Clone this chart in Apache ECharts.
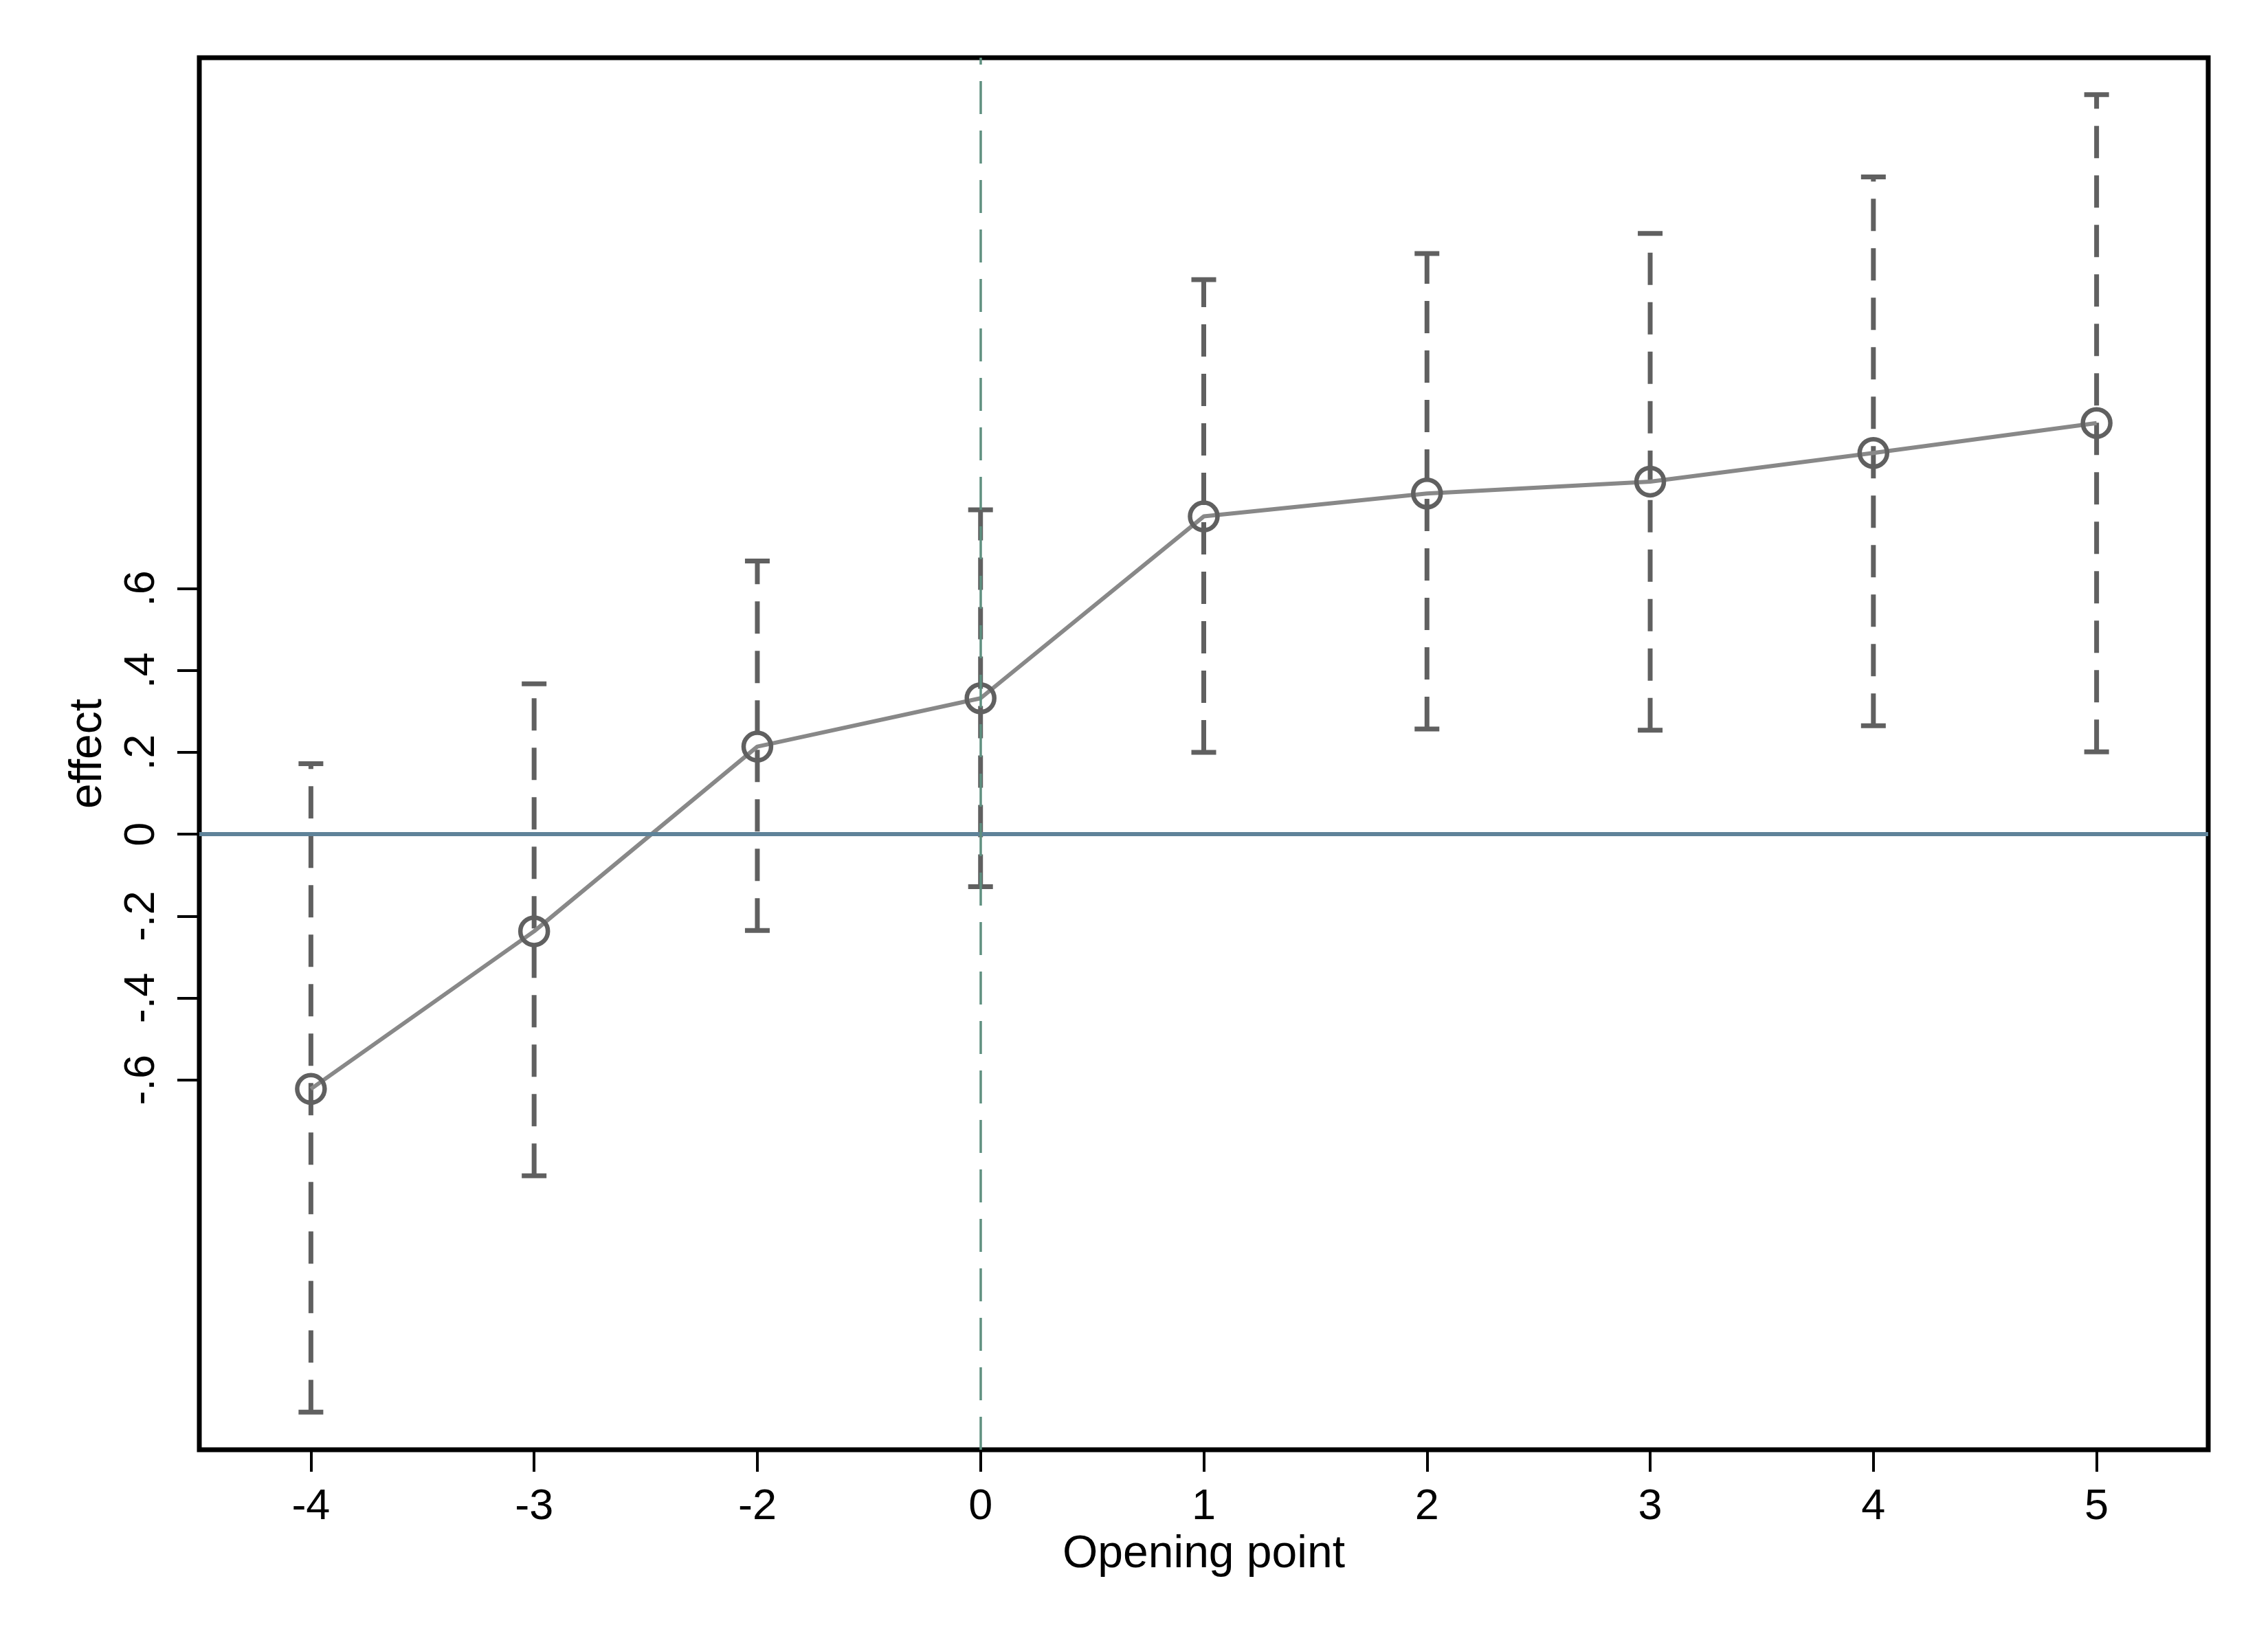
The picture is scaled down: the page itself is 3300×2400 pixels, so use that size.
<!DOCTYPE html>
<html>
<head>
<meta charset="utf-8">
<script src="https://cdn.jsdelivr.net/npm/echarts@6/dist/echarts.min.js"></script>
<style>
html,body{margin:0;padding:0;background:#fff;}
#chart{width:3300px;height:2400px;}
</style>
</head>
<body>
<div id="chart"></div>
<script>
const categories = ['-4', '-3', '-2', '0', '1', '2', '3', '4', '5'];
const effect = [-0.622, -0.237, 0.214, 0.332, 0.776, 0.832, 0.861, 0.931, 1.004];
const upperCI = [0.172, 0.367, 0.667, 0.792, 1.354, 1.418, 1.467, 1.605, 1.806];
const lowerCI = [-1.411, -0.834, -0.235, -0.128, 0.200, 0.257, 0.254, 0.265, 0.201];
const yTicks = [-0.6, -0.4, -0.2, 0, 0.2, 0.4, 0.6];
const yTickLabels = ['-.6', '-.4', '-.2', '0', '.2', '.4', '.6'];
const refX = '0';
const refY = 0;

const FONT = 'Liberation Sans, Arial, Helvetica, sans-serif';
const chart = echarts.init(document.getElementById('chart'), null, {renderer: 'canvas'});

const ciData = categories.map((c, i) => [i, lowerCI[i], upperCI[i]]);

function renderCI(params, api) {
  const x = api.value(0);
  const lo = api.coord([x, api.value(1)]);
  const hi = api.coord([x, api.value(2)]);
  const half = 18;
  const style = {stroke: '#606060', lineWidth: 7, fill: null};
  return {
    type: 'group',
    children: [
      {type: 'line', shape: {x1: lo[0], y1: lo[1], x2: hi[0], y2: hi[1]},
       style: Object.assign({}, style, {lineDash: [47, 25], lineCap: 'butt'})},
      {type: 'line', shape: {x1: lo[0] - half, y1: lo[1], x2: lo[0] + half, y2: lo[1]}, style: style},
      {type: 'line', shape: {x1: hi[0] - half, y1: hi[1], x2: hi[0] + half, y2: hi[1]}, style: style}
    ]
  };
}

const option = {
  animation: false,
  backgroundColor: '#ffffff',
  grid: {
    left: 290, top: 84, width: 2923, height: 2026,
    show: true, borderColor: '#000000', borderWidth: 7, backgroundColor: '#ffffff'
  },
  xAxis: {
    type: 'category',
    data: categories,
    boundaryGap: true,
    axisLine: {show: false, onZero: false},
    axisTick: {show: true, alignWithLabel: true, length: 32, lineStyle: {color: '#000', width: 4}},
    axisLabel: {show: true, margin: 52, fontSize: 63, color: '#000', fontFamily: FONT, interval: 0},
    splitLine: {show: false},
    name: 'Opening point',
    nameLocation: 'middle',
    nameGap: 118,
    nameTextStyle: {fontSize: 66, color: '#000', fontFamily: FONT}
  },
  yAxis: {
    type: 'value',
    min: -1.503,
    max: 1.896,
    axisLine: {show: false, onZero: false},
    splitLine: {show: false},
    axisTick: {show: true, length: 32, customValues: yTicks, lineStyle: {color: '#000', width: 4}},
    axisLabel: {
      show: true, rotate: 90, margin: 52, fontSize: 63, color: '#000', fontFamily: FONT,
      customValues: yTicks,
      formatter: function (v) {
        const k = yTicks.findIndex(t => Math.abs(t - v) < 1e-9);
        return k >= 0 ? yTickLabels[k] : '';
      }
    },
    name: 'effect',
    nameLocation: 'middle',
    nameRotate: 90,
    nameGap: 128,
    nameTextStyle: {fontSize: 66, color: '#000', fontFamily: FONT}
  },
  series: [
    {
      type: 'scatter',
      data: [],
      z: 1,
      silent: true,
      markLine: {
        silent: true,
        symbol: ['none', 'none'],
        label: {show: false},
        animation: false,
        data: [
          {yAxis: refY, lineStyle: {color: '#5f8399', width: 6, type: 'solid'}},
          {xAxis: categories.indexOf(refX), lineStyle: {color: '#5f9080', width: 3.5, type: [48, 24]}}
        ]
      }
    },
    {
      type: 'custom',
      data: ciData,
      renderItem: renderCI,
      z: 2,
      silent: true,
      encode: {x: 0, y: [1, 2]}
    },
    {
      type: 'line',
      data: effect,
      z: 3,
      symbol: 'circle',
      symbolSize: 40,
      showAllSymbol: true,
      lineStyle: {color: '#888888', width: 6},
      itemStyle: {color: 'rgba(0,0,0,0)', borderColor: '#606060', borderWidth: 6.5}
    }
  ]
};
chart.setOption(option);
</script>
</body>
</html>
